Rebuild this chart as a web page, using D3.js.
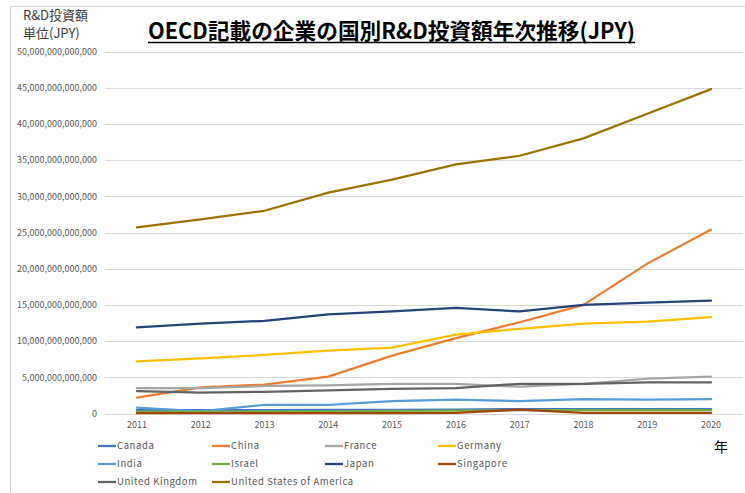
<!DOCTYPE html>
<html>
<head>
<meta charset="utf-8">
<script src="https://cdn.jsdelivr.net/npm/d3@7"></script>
<style>
  body { margin: 0; background: #fff; }
  svg { display: block; font-family: "Noto Sans CJK JP", "Noto Sans", sans-serif; }
</style>
</head>
<body>
<svg id="chart" width="745" height="493"></svg>
<script>
// Years on the category axis
const years = ["2011", "2012", "2013", "2014", "2015", "2016", "2017", "2018", "2019", "2020"];

// Values in trillion JPY
const canada = [0.45, 0.45, 0.48, 0.5, 0.5, 0.55, 0.6, 0.6, 0.62, 0.62];
const china = [2.2, 3.6, 4.0, 5.1, 8.0, 10.4, 12.6, 15.0, 20.7, 25.4];
const france = [3.5, 3.5, 3.8, 3.9, 4.1, 4.1, 3.7, 4.1, 4.8, 5.1];
const germany = [7.2, 7.6, 8.1, 8.7, 9.1, 10.9, 11.7, 12.4, 12.7, 13.3];
const india = [0.8, 0.3, 1.2, 1.2, 1.7, 1.9, 1.7, 2.0, 1.9, 2.0];
const israel = [0.25, 0.25, 0.3, 0.3, 0.35, 0.4, 0.45, 0.45, 0.45, 0.45];
const japan = [11.9, 12.4, 12.8, 13.7, 14.1, 14.6, 14.1, 15.0, 15.3, 15.6];
const singapore = [0.05, 0.05, 0.05, 0.05, 0.05, 0.1, 0.55, 0.1, 0.1, 0.1];
const uk = [3.1, 2.9, 3.0, 3.2, 3.4, 3.5, 4.1, 4.1, 4.3, 4.3];
const usa = [25.7, 26.8, 28.0, 30.5, 32.3, 34.4, 35.6, 38.0, 41.4, 44.8];

const seriesNames = ["Canada", "China", "France", "Germany", "India", "Israel",
    "Japan", "Singapore", "United Kingdom", "United States of America"];
const seriesValues = [canada, china, france, germany, india, israel, japan, singapore, uk, usa];
const seriesColors = ["#4472c4", "#ed7d31", "#a5a5a5", "#ffc000", "#5b9bd5", "#70ad47",
    "#264478", "#9e480e", "#636363", "#997300"];

const yTicks = d3.range(0, 51, 5); // trillion

const svg = d3.select("#chart");

// Chart border (only left and top show in the crop)
svg.append("line").attr("x1", 10.5).attr("x2", 10.5).attr("y1", 6.5).attr("y2", 493)
    .attr("stroke", "#d9d9d9");
svg.append("line").attr("x1", 10.5).attr("x2", 745).attr("y1", 6.5).attr("y2", 6.5)
    .attr("stroke", "#d9d9d9");

const x = d3.scaleBand().domain(years).range([105, 743]);
const y = d3.scaleLinear().domain([0, 50]).range([413.5, 51.5]);

// Gridlines
svg.append("g")
    .selectAll("line")
    .data(yTicks)
    .join("line")
    .attr("x1", 105).attr("x2", 743)
    .attr("y1", d => Math.round(y(d)) + 0.5).attr("y2", d => Math.round(y(d)) + 0.5)
    .attr("stroke", "#d9d9d9")
    .attr("stroke-width", 1);

// Y axis labels
const fmt = d => d === 0 ? "0" : d3.format(",.0f")(d * 1e12);
const yAxis = svg.append("g")
    .attr("transform", "translate(105,0)")
    .call(d3.axisLeft(y).tickValues(yTicks).tickFormat(fmt).tickSize(0).tickPadding(8));
yAxis.select(".domain").remove();
yAxis.selectAll("text")
    .attr("fill", "#595959")
    .style("font-size", "9px")
    .style("font-family", "'Noto Sans CJK JP', sans-serif");

// X axis labels
const xAxis = svg.append("g")
    .attr("transform", "translate(0,413.5)")
    .call(d3.axisBottom(x).tickSize(0).tickPadding(8));
xAxis.select(".domain").remove();
xAxis.selectAll("text")
    .attr("fill", "#595959")
    .style("font-size", "9px")
    .style("font-family", "'Noto Sans CJK JP', sans-serif");

// Lines
const line = d3.line()
    .x((d, i) => x(years[i]) + x.bandwidth() / 2)
    .y(d => y(d));

svg.append("g")
    .selectAll("path")
    .data(seriesValues)
    .join("path")
    .attr("d", d => line(d))
    .attr("fill", "none")
    .attr("stroke", (d, i) => seriesColors[i])
    .attr("stroke-width", 2.25)
    .attr("stroke-linejoin", "round")
    .attr("stroke-linecap", "round");

// Legend, 4 columns
const legendX = [98, 212, 325, 438];
const legendY = [446, 464, 482];
const legend = svg.append("g")
    .selectAll("g")
    .data(seriesNames)
    .join("g")
    .attr("transform", (d, i) => `translate(${legendX[i % 4]},${legendY[Math.floor(i / 4)]})`);
legend.append("line")
    .attr("x1", 0).attr("x2", 18)
    .attr("stroke", (d, i) => seriesColors[i])
    .attr("stroke-width", 2.25);
legend.append("text")
    .attr("x", 19)
    .attr("dy", "0.35em")
    .attr("fill", "#595959")
    .style("font-size", "9.5px")
    .style("letter-spacing", "0.6px")
    .text(d => d);

// Title
svg.append("text")
    .attr("x", 148).attr("y", 39)
    .attr("textLength", 487)
    .attr("lengthAdjust", "spacingAndGlyphs")
    .style("font-size", "22px")
    .style("font-weight", "bold")
    .attr("fill", "#000")
    .text("OECD記載の企業の国別R&D投資額年次推移(JPY)");
svg.append("line")
    .attr("x1", 148).attr("x2", 635)
    .attr("y1", 42.5).attr("y2", 42.5)
    .attr("stroke", "#000").attr("stroke-width", 1.5);

// Y axis title
svg.append("text")
    .attr("x", 23).attr("y", 20)
    .attr("fill", "#404040")
    .style("font-size", "13px")
    .text("R&D投資額");
svg.append("text")
    .attr("x", 23).attr("y", 38)
    .attr("fill", "#404040")
    .style("font-size", "13px")
    .text("単位(JPY)");

// X axis title
svg.append("text")
    .attr("x", 714).attr("y", 452)
    .attr("fill", "#000")
    .style("font-size", "14px")
    .text("年");
</script>
</body>
</html>
